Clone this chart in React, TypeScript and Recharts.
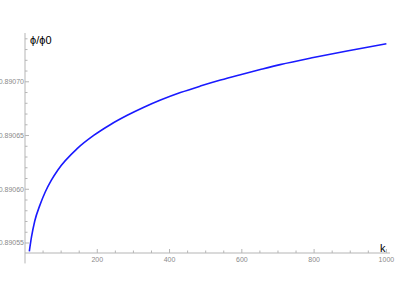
import React from "react";
import { LineChart, Line, XAxis, YAxis, ReferenceLine, Label } from "recharts";

const kValues = [12, 18, 27, 41, 56, 73, 91, 145, 191, 237, 283, 329, 375, 430, 485, 541, 596, 651, 706, 798, 891, 1000];
const phiRatio = [
  0.8905423, 0.8905556, 0.8905705, 0.890585, 0.8905975, 0.8906085, 0.890618, 0.890638,
  0.8906503, 0.8906603, 0.8906688, 0.8906763, 0.890683, 0.89069, 0.890696, 0.8907016,
  0.8907066, 0.8907114, 0.890716, 0.8907226, 0.8907287, 0.8907354,
];
const xMajorTicks = [200, 400, 600, 800, 1000];
const xAllTicks = [50, 100, 150, 200, 250, 300, 350, 400, 450, 500, 550, 600, 650, 700, 750, 800, 850, 900, 950, 1000];
const yMajorTicks = [0.89055, 0.8906, 0.89065, 0.8907];
const yAllTicks = [
  0.89055, 0.89056, 0.89057, 0.89058, 0.89059, 0.8906, 0.89061, 0.89062, 0.89063, 0.89064,
  0.89065, 0.89066, 0.89067, 0.89068, 0.89069, 0.8907, 0.89071, 0.89072, 0.89073, 0.89074,
];

const data = kValues.map((k, i) => ({ k, v: phiRatio[i] }));

const AXIS = "#b5b5b5";
const TICKTXT = "#8a8a8a";
const FONT = "Liberation Sans, Arial, sans-serif";

const isMajorY = (v: number) => yMajorTicks.some((m) => Math.abs(m - v) < 1e-9);
const isMajorX = (v: number) => xMajorTicks.includes(v);

const YTick = (props: any) => {
  const { x, y, payload } = props;
  const major = isMajorY(payload.value);
  return (
    <g>
      <line x1={x} x2={x + (major ? 4 : 2.5)} y1={y} y2={y} stroke={AXIS} strokeWidth={1} />
      {major && (
        <text x={x - 1} y={y} dy={2.4} textAnchor="end" fontSize={7} fill={TICKTXT} fontFamily={FONT}>
          {payload.value.toFixed(5)}
        </text>
      )}
    </g>
  );
};

const XTick = (props: any) => {
  const { x, y, payload } = props;
  const major = isMajorX(payload.value);
  return (
    <g>
      <line x1={x} x2={x} y1={y} y2={y - (major ? 4 : 2.5)} stroke={AXIS} strokeWidth={1} />
      {major && (
        <text x={x} y={y + 9} textAnchor="middle" fontSize={7} fill={TICKTXT} fontFamily={FONT}>
          {payload.value}
        </text>
      )}
    </g>
  );
};

export default function App() {
  return (
    <div style={{ position: "absolute", left: 0, top: 0, width: 403, height: 285, background: "#fff" }}>
      <LineChart width={403} height={285} data={data} margin={{ top: 33, right: 13, bottom: 12, left: 0 }}>
        <XAxis
          dataKey="k"
          type="number"
          domain={[0, 1010]}
          ticks={xAllTicks}
          interval={0}
          tick={<XTick />}
          tickLine={false}
          tickSize={0}
          tickMargin={0}
          axisLine={{ stroke: AXIS }}
          height={20}
        >
          <Label
            content={(p: any) => (
              <text
                x={p.viewBox.x + p.viewBox.width - 10}
                y={p.viewBox.y - 1}
                fontSize={11}
                fill="#000"
                fontFamily={FONT}
              >
                k
              </text>
            )}
          />
        </XAxis>
        <YAxis
          type="number"
          domain={[0.8905407, 0.8907454]}
          ticks={yAllTicks}
          interval={0}
          tick={<YTick />}
          tickLine={false}
          tickSize={0}
          tickMargin={0}
          axisLine={{ stroke: AXIS }}
          width={25}
          allowDataOverflow
        >
          <Label
            content={(p: any) => (
              <text x={p.viewBox.x + p.viewBox.width + 5} y={p.viewBox.y + 11} fontSize={11} fill="#000" fontFamily={FONT}>
                ϕ/ϕ0
              </text>
            )}
          />
        </YAxis>
        <ReferenceLine
          segment={[
            { x: 0, y: 0.8905407 },
            { x: 0, y: 0.890531 },
          ]}
          stroke={AXIS}
          ifOverflow="visible"
        />
        <Line
          type="monotone"
          dataKey="v"
          stroke="#1a1aff"
          strokeWidth={1.6}
          dot={false}
          isAnimationActive={false}
        />
      </LineChart>
    </div>
  );
}
